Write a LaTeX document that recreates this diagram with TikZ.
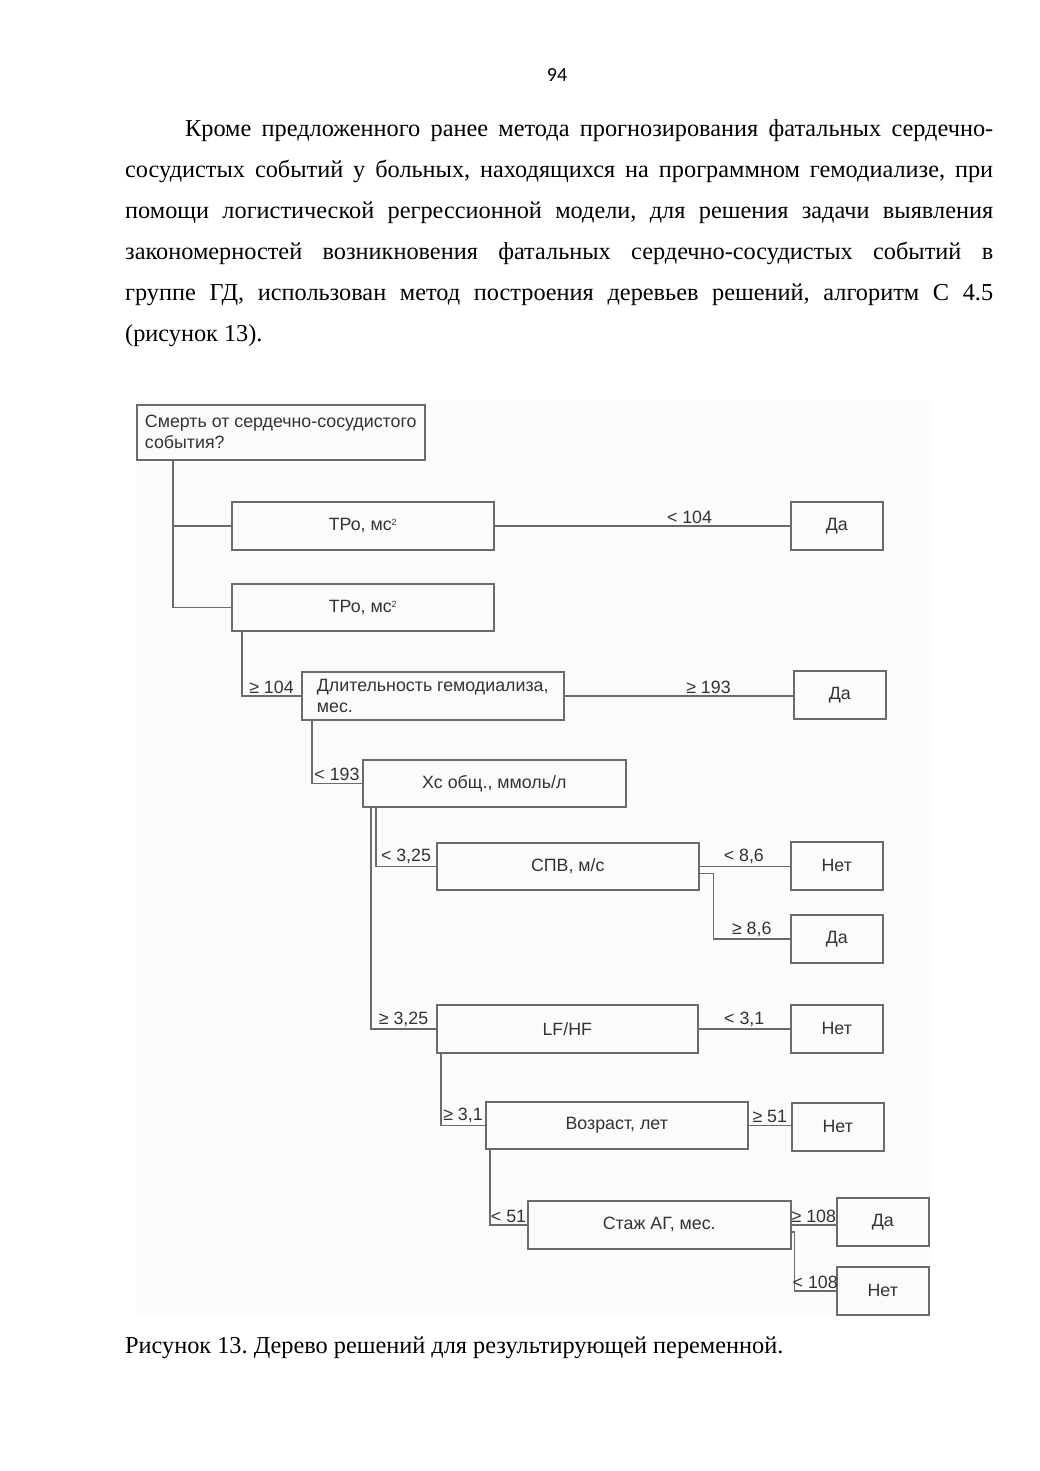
\documentclass[tikz,border=0pt]{standalone}
\usepackage{fontspec}
\setmainfont{Liberation Serif}
\newfontfamily\diagfont{Liberation Sans}
\newfontfamily\pagefont{Carlito}
\usepackage{tikz}
\usetikzlibrary{positioning,calc}
\definecolor{linegray}{HTML}{6A6A6A}
\definecolor{inkgray}{HTML}{333333}
\definecolor{paperbg}{HTML}{FCFBF9}
\newcommand{\sqmark}{\raisebox{5pt}{\fontsize{9}{9}\selectfont 2}}
\frenchspacing
\tikzset{
  box/.style={draw=linegray, line width=1.5pt, inner sep=0pt, anchor=north west,
    text=inkgray, font=\diagfont\fontsize{17.8}{21}\selectfont},
  split/.style={box, minimum width=262pt, minimum height=48pt},
  leaf/.style={box, minimum width=92pt, minimum height=48pt},
  cond/.style={above, inner sep=1.5pt, text=inkgray, font=\diagfont\fontsize{17.8}{21}\selectfont},
  link/.style={linegray, line width=1.5pt},
  bodyline/.style={anchor=base west, inner sep=0pt, font=\fontsize{24.3}{41}\selectfont}
}

\begin{document}
\begin{tikzpicture}[x=1pt, y=-1pt]
  \fill[white] (0,0) rectangle (1040,1471);
  % page number and paragraph
  \node[anchor=base, inner sep=0pt, font=\pagefont\fontsize{20}{22}\selectfont] (pagenum) at (557,82) {94};
  \node[bodyline] (par1) at (185,137) {\makebox[808pt][s]{Кроме предложенного ранее метода прогнозирования фатальных сердечно-}};
  \node[bodyline] (par2) at (125,178) {\makebox[868pt][s]{сосудистых событий у больных, находящихся на программном гемодиализе, при}};
  \node[bodyline] (par3) at (125,218.5) {\makebox[868pt][s]{помощи логистической регрессионной модели, для решения задачи выявления}};
  \node[bodyline] (par4) at (125,259.5) {\makebox[868pt][s]{закономерностей возникновения фатальных сердечно-сосудистых событий в}};
  \node[bodyline] (par5) at (125,300.5) {\makebox[868pt][s]{группе ГД, использован метод построения деревьев решений, алгоритм С 4.5}};
  \node[bodyline] (par6) at (125,341) {(рисунок 13).};

  % the tree
  \fill[paperbg] (136,401) rectangle (931,1316);
  \node[box, minimum width=288pt, minimum height=55pt, align=left] (root) at (136,404)
    {Смерть от сердечно-сосудистого\\события?};
  \node[split] (tro1) at (231,501) {ТРо, мс\sqmark};
  \node[split, minimum height=47pt] (tro2) at (231,583) {ТРо, мс\sqmark};
  \node[split, align=left] (hd) at (301,671) {Длительность гемодиализа,\\мес.};
  \node[split, minimum width=263pt, minimum height=47pt] (xc) at (362,759) {Хс общ., ммоль/л};
  \node[split, minimum height=47pt] (spv) at (436,842) {СПВ, м/с};
  \node[split, minimum width=261pt] (lfhf) at (436,1004) {LF/HF};
  \node[split, minimum height=47pt] (age) at (485,1101) {Возраст, лет};
  \node[split, minimum width=263pt] (stazh) at (527,1200) {Стаж АГ, мес.};

  \node[leaf] (yes1) at (790,501) {Да};
  \node[leaf] (yes2) at (793,670) {Да};
  \node[leaf] (no1) at (790,841) {Нет};
  \node[leaf] (yes3) at (790,914) {Да};
  \node[leaf] (no2) at (790,1004) {Нет};
  \node[leaf] (no3) at (791,1102) {Нет};
  \node[leaf] (yes4) at (836,1197) {Да};
  \node[leaf] (no4) at (836,1266) {Нет};

  \draw[link] ($(root.south west)+(37,0)$) |- (tro1.west);
  \draw[link] ($(root.south west)+(37,0)$) |- (tro2.west);
  \draw[link] (tro1.east) -- node[cond, pos=0.66] {< 104} (yes1.west);
  \draw[link] ($(tro2.south west)+(11,0)$) |- node[cond, pos=0.75] {≥ 104} (hd.west);
  \draw[link] (hd.east) -- node[cond, pos=0.63] {≥ 193} (hd.east -| yes2.west);
  \draw[link] ($(hd.south west)+(11,0)$) |- node[cond, pos=0.75] {< 193} (xc.west);
  \draw[link] ($(xc.south west)+(14,0)$) |- node[cond, pos=0.75] {< 3,25} (spv.west);
  \draw[link] ($(xc.south west)+(9,0)$) |- node[cond, pos=0.75] {≥ 3,25} (lfhf.west);
  \draw[link] (spv.east) -- node[cond, pos=0.49] {< 8,6} (spv.east -| no1.west);
  \draw[link] ($(spv.east)+(0,7)$) -- ++(14,0) |- node[cond, pos=0.75] {≥ 8,6} (yes3.west);
  \draw[link] (lfhf.east) -- node[cond, pos=0.5] {< 3,1} (no2.west);
  \draw[link] ($(lfhf.south west)+(5,0)$) |- node[cond, pos=0.75] {≥ 3,1} (age.west);
  \draw[link] (age.east) -- node[cond, pos=0.5] {≥ 51} (age.east -| no3.west);
  \draw[link] ($(age.south west)+(5,0)$) |- node[cond, pos=0.75] {< 51} (stazh.west);
  \draw[link] (stazh.east) -- node[cond, pos=0.5] {≥ 108} (stazh.east -| yes4.west);
  \draw[link] ($(stazh.east)+(0,7)$) -- ++(3,0) |- node[cond, pos=0.75] {< 108} (no4.west);

  % caption
  \node[bodyline] (caption) at (125,1353) {Рисунок 13. Дерево решений для результирующей переменной.};
\end{tikzpicture}
\end{document}
